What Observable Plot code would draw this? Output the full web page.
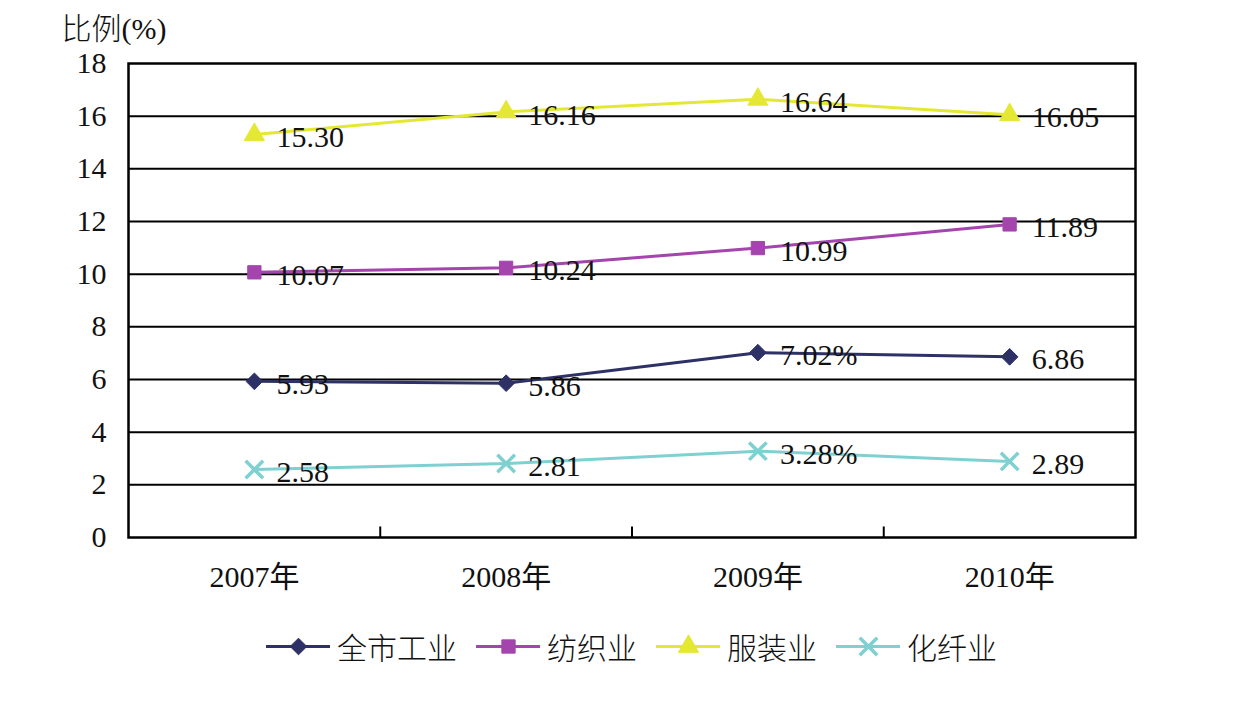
<!DOCTYPE html>
<html>
<head>
<meta charset="utf-8">
<script src="https://cdn.jsdelivr.net/npm/d3@7"></script>
<script src="https://cdn.jsdelivr.net/npm/@observablehq/plot@0.6"></script>
<style>
  html, body { margin: 0; padding: 0; background: #fff; }
  #chart { width: 1243px; }
  #legend { display: flex; justify-content: center; align-items: center; margin-top: 4px; padding-left: 20px;
    font-family: "Noto Sans CJK SC", sans-serif; font-weight: 300; font-size: 30px; color: #111; }
  .item { display: flex; align-items: center; margin-right: 19px; }
  .item:last-child { margin-right: 0; }
  .item svg { margin-right: 7px; }
</style>
</head>
<body>
<div id="chart"></div>
<script>
const years = [2007, 2008, 2009, 2010];
const seriesNames = ["全市工业", "纺织业", "服装业", "化纤业"];
const allIndustry = [5.93, 5.86, 7.02, 6.86];
const textile = [10.07, 10.24, 10.99, 11.89];
const apparel = [15.30, 16.16, 16.64, 16.05];
const chemFiber = [2.58, 2.81, 3.28, 2.89];
const labelTexts = [
  ["5.93", "5.86", "7.02%", "6.86"],
  ["10.07", "10.24", "10.99", "11.89"],
  ["15.30", "16.16", "16.64", "16.05"],
  ["2.58", "2.81", "3.28%", "2.89"]
];
const colors = ["#2E3166", "#A445AE", "#E4E835", "#7ED1D0"];
const symbols = ["diamond2", "square", "triangle", "times"];
const yTicks = [0, 2, 4, 6, 8, 10, 12, 14, 16, 18];
const yTitle = "比例(%)";

const valuesBySeries = [allIndustry, textile, apparel, chemFiber];
const data = [];
seriesNames.forEach((s, i) => years.forEach((yr, j) => data.push({
  series: s, year: yr, value: valuesBySeries[i][j], label: labelTexts[i][j]
})));
const boundaries = years.slice(1).map(y => y - 0.5);
const isCross = d => d.series === seriesNames[3];

const serif = "'Liberation Serif', 'Times New Roman', 'Noto Sans CJK SC', serif";

const plot = Plot.plot({
  width: 1243,
  height: 620,
  marginLeft: 128,
  marginRight: 108,
  marginTop: 63,
  marginBottom: 83,
  style: { fontFamily: serif, fontSize: "30px", color: "#111", background: "#fff" },
  x: { type: "linear", domain: [years[0] - 0.5, years[years.length - 1] + 0.5] },
  y: { domain: [0, 18] },
  color: { domain: seriesNames, range: colors },
  symbol: { domain: seriesNames, range: symbols },
  marks: [
    Plot.gridY(yTicks.slice(1, -1), { stroke: "#000", strokeOpacity: 1, strokeWidth: 2 }),
    Plot.frame({ stroke: "#000", strokeWidth: 2.5 }),
    Plot.ruleX(boundaries, { x: d => d, y1: 0, y2: 0.4, stroke: "#000", strokeWidth: 2 }),
    Plot.axisY(yTicks, { tickSize: 0, tickPadding: 22, fontSize: 30, label: null }),
    Plot.axisX(years, { tickSize: 0, tickPadding: 28, fontSize: 30, tickFormat: d => d + "年", label: null }),
    Plot.text([yTitle], { frameAnchor: "top-left", text: d => d, dx: -67, dy: -46, textAnchor: "start", lineAnchor: "top", fontSize: 30, fontWeight: 300, fill: "#111" }),
    Plot.line(data, { x: "year", y: "value", z: "series", stroke: "series", strokeWidth: 3 }),
    Plot.dot(data.filter(d => !isCross(d)), { x: "year", y: "value", symbol: "series", fill: "series", stroke: "series", r: 7.5, strokeWidth: 1 }),
    Plot.dot(data.filter(isCross), { x: "year", y: "value", symbol: "series", stroke: "series", r: 8, strokeWidth: 3.5 }),
    Plot.text(data, { x: "year", y: "value", text: "label", dx: 22, dy: 3, textAnchor: "start", fontSize: 30, fill: "#111" })
  ]
});
document.getElementById("chart").appendChild(plot);

// Legend
const legend = document.createElement("div");
legend.id = "legend";
seriesNames.forEach((s, i) => {
  const item = document.createElement("div");
  item.className = "item";
  const cross = i === 3;
  const sw = Plot.plot({
    width: 64, height: 30, margin: 0,
    x: { domain: [0, 1], axis: null }, y: { domain: [0, 1], axis: null },
    color: { domain: seriesNames, range: colors },
    symbol: { domain: seriesNames, range: symbols },
    marks: [
      Plot.ruleY([{ series: s }], { y: 0.5, stroke: "series", strokeWidth: 3 }),
      Plot.dot([{ series: s }], { x: 0.5, y: 0.5, symbol: "series", fill: cross ? "none" : "series", stroke: "series", r: cross ? 8 : 7.5, strokeWidth: cross ? 3.5 : 1 })
    ]
  });
  item.appendChild(sw);
  const t = document.createElement("span");
  t.textContent = s;
  item.appendChild(t);
  legend.appendChild(item);
});
document.getElementById("chart").appendChild(legend);
</script>
</body>
</html>
